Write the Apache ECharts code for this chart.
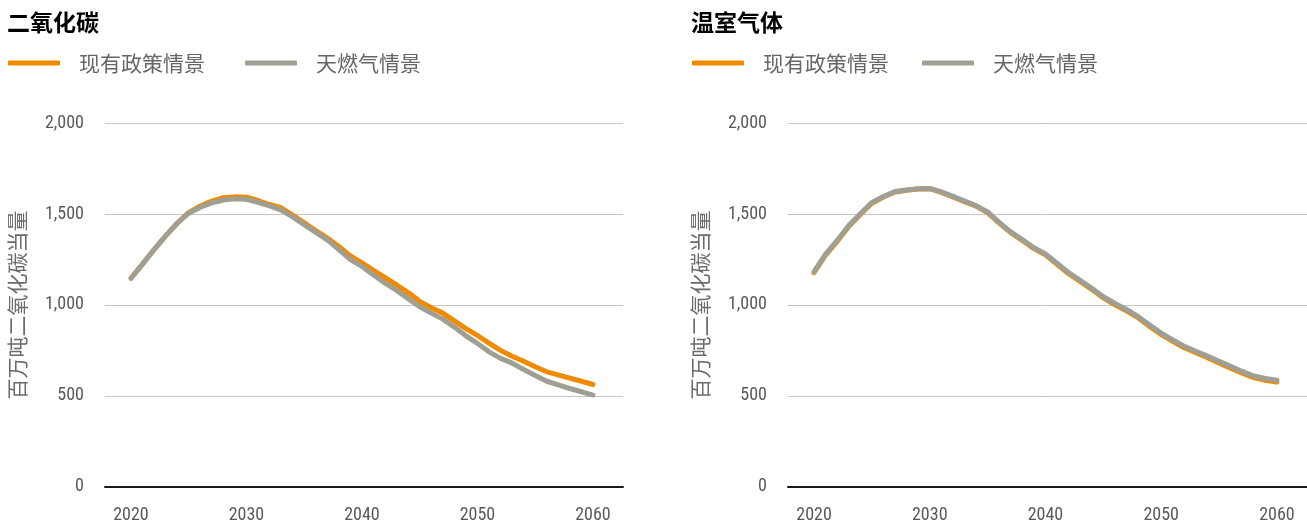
<!DOCTYPE html>
<html>
<head>
<meta charset="utf-8">
<script src="https://cdn.jsdelivr.net/npm/echarts@6/dist/echarts.min.js"></script>
<style>
html, body { margin: 0; padding: 0; background: #fff; }
#main { width: 1307px; height: 526px; }
</style>
</head>
<body>
<div id="main"></div>
<script>
// years 2020 - 2060
const years = [];
for (let y = 2020; y <= 2060; y++) years.push(y);
const yearTicks = [2020, 2030, 2040, 2050, 2060];
const valueTicks = [0, 500, 1000, 1500, 2000];

const titles = ['二氧化碳', '温室气体'];
const seriesNames = ['现有政策情景', '天燃气情景'];
const yName = '百万吨二氧化碳当量';

// 二氧化碳
const co2Policy = [1147, 1225, 1305, 1380, 1450, 1508, 1545, 1572, 1590, 1595,
  1593, 1575, 1553, 1535, 1495, 1452, 1410, 1368, 1322, 1270,
  1232, 1190, 1150, 1110, 1068, 1020, 985, 955, 912, 870,
  832, 790, 750, 718, 690, 660, 632, 615, 597, 580, 562];
const co2Gas = [1147, 1225, 1305, 1380, 1450, 1505, 1538, 1562, 1578, 1584,
  1582, 1565, 1545, 1522, 1485, 1442, 1400, 1358, 1305, 1250,
  1212, 1165, 1120, 1080, 1035, 990, 955, 922, 878, 830,
  788, 742, 706, 680, 645, 612, 580, 560, 540, 522, 504];

// 温室气体
const ghgPolicy = [1178, 1274, 1350, 1432, 1498, 1560, 1594, 1622, 1631, 1638,
  1640, 1620, 1595, 1569, 1544, 1508, 1451, 1398, 1355, 1310,
  1276, 1224, 1172, 1130, 1086, 1039, 1001, 968, 930, 882,
  837, 800, 764, 737, 709, 681, 652, 624, 600, 585, 575];
const ghgGas = [1183, 1280, 1355, 1437, 1502, 1564, 1597, 1624, 1633, 1640,
  1641, 1622, 1598, 1572, 1547, 1512, 1455, 1402, 1360, 1315,
  1281, 1230, 1178, 1136, 1092, 1045, 1008, 975, 937, 890,
  845, 808, 772, 745, 718, 690, 662, 634, 609, 595, 585];

const orange = '#f08a00';
const gray = '#a09f94';
const narrow = "'Liberation Sans Narrow', 'Roboto Condensed', 'DejaVu Sans Condensed', sans-serif";
const cjk = "'Noto Sans CJK SC', sans-serif";

function pairs(vals) {
  return vals.map((v, i) => [years[i], v]);
}

const grids = [
  { left: 105, top: 123.3, width: 518, height: 363.3 },
  { left: 788, top: 123.3, width: 519, height: 363.3 }
];

const chart = echarts.init(document.getElementById('main'));

const xAxes = grids.map((g, i) => ({
  type: 'value',
  gridIndex: i,
  min: 2017.75,
  max: 2062.6,
  axisLine: { show: true, onZero: false, lineStyle: { color: '#1a1a1a', width: 2 } },
  axisTick: { show: false },
  splitLine: { show: false },
  axisLabel: {
    customValues: yearTicks,
    margin: 20,
    color: '#595959',
    fontSize: 18,
    fontFamily: narrow,
    formatter: v => String(v)
  }
}));

const yAxes = grids.map((g, i) => ({
  type: 'value',
  gridIndex: i,
  min: valueTicks[0],
  max: valueTicks[valueTicks.length - 1],
  interval: 500,
  name: yName,
  nameLocation: 'middle',
  nameRotate: 90,
  nameGap: 77,
  nameTextStyle: { color: '#6b6b6b', fontSize: 21, fontFamily: cjk },
  axisLine: { show: false },
  axisTick: { show: false },
  splitLine: { lineStyle: { color: '#c6c6c6', width: 1 } },
  axisLabel: {
    margin: 21,
    color: '#595959',
    fontSize: 18,
    fontFamily: narrow,
    formatter: v => v.toLocaleString('en-US')
  }
}));

function lineSeries(name, color, data, idx) {
  return {
    name: name,
    type: 'line',
    xAxisIndex: idx,
    yAxisIndex: idx,
    data: pairs(data),
    showSymbol: false,
    symbol: 'none',
    lineStyle: { color: color, width: 5, cap: 'round', join: 'round' },
    itemStyle: { color: color },
    silent: true
  };
}

chart.setOption({
  animation: false,
  color: [orange, gray],
  title: [
    { text: titles[0], left: 2, top: 6, textStyle: { fontSize: 23, fontWeight: 'bold', color: '#000', fontFamily: cjk } },
    { text: titles[1], left: 686, top: 6, textStyle: { fontSize: 23, fontWeight: 'bold', color: '#000', fontFamily: cjk } }
  ],
  legend: [
    {
      left: 3, top: 47, itemWidth: 52, itemHeight: 5, itemGap: 40, icon: 'roundRect',
      data: seriesNames,
      textStyle: { color: '#666', fontSize: 21, fontFamily: cjk, padding: [0, 0, 0, 14], lineHeight: 22 }
    },
    {
      left: 687, top: 47, itemWidth: 52, itemHeight: 5, itemGap: 33, icon: 'roundRect',
      data: seriesNames,
      textStyle: { color: '#666', fontSize: 21, fontFamily: cjk, padding: [0, 0, 0, 14], lineHeight: 22 }
    }
  ],
  grid: grids,
  xAxis: xAxes,
  yAxis: yAxes,
  series: [
    lineSeries(seriesNames[0], orange, co2Policy, 0),
    lineSeries(seriesNames[1], gray, co2Gas, 0),
    lineSeries(seriesNames[0], orange, ghgPolicy, 1),
    lineSeries(seriesNames[1], gray, ghgGas, 1)
  ]
});
</script>
</body>
</html>
